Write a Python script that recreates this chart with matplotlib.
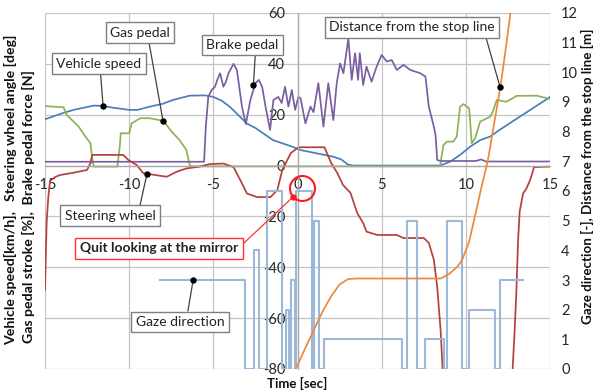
import numpy as np
import matplotlib
matplotlib.use("Agg")
import matplotlib.pyplot as plt

plt.rcParams['font.family'] = ['Lato', 'DejaVu Sans']
plt.rcParams['axes.unicode_minus'] = False

# ---------------- data (time in sec) ----------------
speed_t = [-15, -14, -13.3, -12.1, -11.5, -11, -10, -9.5, -8.76, -8, -7.4, -6.4, -5.5, -5, -4.5, -4,
           -3, -2.5, -2, -1.45, -1, -0.26, 0.18, 1.15, 2.13, 2.6, 3.0, 3.3, 8.47, 9.06, 9.66,
           10.25, 10.85, 11.44, 12.0, 13.2, 14.9, 15]
speed_v = [18.2, 20.5, 21.9, 23.6, 23.4, 22.8, 21.9, 21.9, 23.2, 24.3, 25.8, 27.5, 27.6, 27, 25.5, 23,
           16.5, 14.8, 12.5, 10, 9, 7.3, 6.1, 4.8, 3.5, 2.4, 0.4, 0, 0, 1.5, 4.2,
           7.4, 10, 11.4, 14, 19.2, 26.5, 27]

gas_t = [-15, -13.9, -13.7, -13.0, -12.6, -12.3, -12.2, -12.1, -10.7, -10.55, -10.5, -10.0, -9.85,
         -9.35, -8.76, -7.97, -7.47, -7.0, -6.6, -6.4, -6.3, 8.47, 8.67, 8.87, 9.26, 9.46, 9.66,
         9.86, 10.2, 10.35, 10.55, 10.85, 11.44, 11.6, 11.84, 12.4, 12.8, 13.0, 14.2, 15]
gas_v = [23.4, 22.9, 19.9, 15.3, 11.4, 8.8, 3, -0.4, -0.4, 8, 12.7, 12.7, 16.6,
         18.6, 18.6, 17.6, 13.3, 10, 6.1, 0.2, -0.3, -0.3, 8.1, 9.4, 9.4, 11.4, 23.2,
         24.2, 22.5, 8.8, 10.7, 17.3, 19.2, 21.2, 25.8, 25.1, 26.5, 27.4, 27.5, 26.2]

brake_t = [-15, -5.55, -5.45, -5.3, -5.1, -4.9, -4.75, -4.6, -4.4, -4.25, -4.1, -3.8, -3.6, -3.3,
           -3.07, -2.8, -2.5, -2.3, -2.1, -1.9, -1.63, -1.43, -1.14, -0.94, -0.74, -0.54, -0.34,
           -0.14, 0.05, 0.18, 0.47, 0.77, 0.95, 1.24, 1.54, 1.83, 2.13, 2.33, 2.53, 2.73, 3.02,
           3.22, 3.42, 3.6, 3.7, 3.9, 4.1, 4.4, 4.7, 5.0, 5.3, 5.6, 5.9, 6.3, 6.7, 7.3, 7.6, 7.8,
           8.1, 8.2, 8.3, 8.5, 10.6, 10.9, 11.2, 15]
brake_v = [1.5, 1.5, 15, 27, 29.7, 31, 34, 36.3, 31, 33, 36.3, 40, 37.6, 23.2,
           16.3, 25.8, 32.4, 33.7, 31, 23.2, 14, 25.8, 27, 24.6, 31, 23.2, 29.7,
           21.9, 27, 26.5, 16.6, 23.2, 21, 32.4, 15.3, 32.4, 17.9, 32.4, 40.2, 36.3, 50,
           33.7, 44.2, 33.7, 44.2, 31.7, 38.9, 33, 38.9, 43.5, 40.9, 41.5, 37.6, 39.6, 37.6, 36.3, 35,
           23.2, 15.3, 12, 2.2, 1.8, 1.8, 2.4, 1.6, 1.6]

steer_t = [-15, -14.95, -14.9, -14.8, -14.7, -14.4, -14.1, -13.3, -12.5, -12.3, -12.2, -10.35,
           -10.05, -9.55, -9.16, -7.77, -7.17, -6.58, -5.8, -5.2, -4.4, -3.8, -3.4, -3.0, -2.4,
           -1.6, -1.2, -0.9, -0.4, 0, 0.2, 1.6, 2.0, 2.37, 2.7, 3.15, 3.55, 3.9, 4.1, 4.75, 5.9,
           6.3, 7.5, 7.8, 8.1, 8.3, 8.5, 8.62, 8.7,
           12.7, 12.78, 12.9, 13.0, 13.1, 13.2, 13.4, 13.6, 13.8, 13.95, 14.05, 15]
steer_v = [-49, -35, -22, -12, -6, -4.5, -3.7, -2.8, -1.7, 0.9, 4.2, 4.2,
           2.2, 0.2, -3.0, -4.4, -2.4, -1.1, -0.4, 0.6, 0.8, -0.6, -5.7, -11, -12.4,
           -12.4, -9.6, -1.7, 4.9, 6.9, 7.2, 7.2, 1, -3, -7.6, -10.8, -18.7, -22.6, -26, -27.3, -27.3,
           -28.5, -28.5, -30.4, -37, -47.7, -64.6, -80, -90,
           -90, -80, -65, -50, -30, -18, -11, -9, -6, -3, -0.6, -0.4]

dist_t = [-0.1, 0.5, 1.0, 1.5, 2.0, 2.5, 3.0, 3.5, 8.5, 9.0, 9.5, 9.8, 10.2, 10.6, 11.0, 11.3,
          11.6, 11.9, 12.1, 12.3, 12.65, 12.8]
dist_v = [0.0, 0.75, 1.35, 1.95, 2.45, 2.85, 3.03, 3.05, 3.05, 3.2, 3.45, 3.7, 4.3, 5.3, 6.3, 7.0,
          8.0, 9.0, 9.7, 10.5, 12.0, 12.6]

gaze_t = [-8.15, -3.1, -2.6, -2.3, -1.84, -0.9, -0.7, -0.5, -0.4, -0.12, -0.06, 0.87, 1.0, 1.25,
          1.55, 6.2, 6.5, 7.1, 7.6, 8.7, 8.9, 9.8, 10.2, 11.75, 12.0, 13.37]
gaze_v = [3, 0, 4, 0, 6, 0, 2, 0, 3, 0, 6, 0, 5, 0,
          1, 0, 5, 0, 1, 0, 5, 0, 2, 0, 3, 3]

x_ticks = [-15, -10, -5, 0, 5, 10, 15]
left_ticks = [-80, -60, -40, -20, 0, 20, 40, 60]
right_ticks = list(range(0, 13))

# ---------------- figure ----------------
W, H = 598, 391
fig = plt.figure(figsize=(W / 100, H / 100), dpi=100)
ax = fig.add_axes([45 / W, 1 - 369 / H, 505 / W, 356 / H])
ax2 = ax.twinx()

grid_c = '#c4c4c4'
ax.set_xlim(-15, 15)
ax.set_ylim(-80, 60)
ax2.set_ylim(0, 12)
ax.set_xticks(x_ticks)
ax.set_yticks(left_ticks)
ax2.set_yticks(right_ticks)
ax.set_xticklabels([str(v) for v in x_ticks])
ax.set_yticklabels([str(v) for v in left_ticks])
ax2.set_yticklabels([str(v) for v in right_ticks])

ax.grid(True, color=grid_c, lw=0.9)
ax.set_axisbelow(True)
ax.yaxis.get_gridlines()[-1].set_visible(False)

for s in ['top', 'right']:
    ax.spines[s].set_visible(False)
for s in ax2.spines.values():
    s.set_visible(False)
ax.spines['left'].set_position(('data', 0))
ax.spines['bottom'].set_position(('data', 0))
ax.spines['left'].set_color('#a8a8a8')
ax.spines['bottom'].set_color('#a8a8a8')
ax.spines['left'].set_linewidth(0.9)
ax.spines['bottom'].set_linewidth(0.9)

tick_c = '#262626'
ax.tick_params(axis='both', length=0, labelsize=10.5, colors=tick_c)
ax.tick_params(axis='y', pad=9)
ax.tick_params(axis='x', pad=9)
ax2.tick_params(axis='y', length=0, labelsize=10.5, colors=tick_c, pad=8)

lw = 1.25
ax.plot(speed_t, speed_v, color='#4a7ebb', lw=lw)
ax.plot(gas_t, gas_v, color='#8db255', lw=lw)
ax.plot(brake_t, brake_v, color='#7b5ea1', lw=lw)
ax.plot(steer_t, steer_v, color='#b5403d', lw=lw)
ax2.step(gaze_t, gaze_v, where='post', color='#9db7db', lw=1.5)
ax2.plot(dist_t, dist_v, color='#ec8a3c', lw=lw)

# ---------------- labels ----------------
lab_kw = dict(fontweight='bold', color='#111111', rotation=90, ha='center', va='center')
fig.text(11 / W, 1 - 190 / H, 'Vehicle speed[km/h],   Steering wheel angle [deg]',
         fontsize=10.2, **lab_kw)
fig.text(28 / W, 1 - 207 / H, 'Gas pedal stroke [%],  Brake pedal force [N]',
         fontsize=10.2, **lab_kw)
fig.text(587 / W, 1 - 176 / H, 'Gaze direction [-], Distance from the stop line [m]',
         fontsize=9.6, **lab_kw)
fig.text(297 / W, 1 - 383 / H, 'Time [sec]', fontsize=9.5, fontweight='bold', color='#111111',
         ha='center', va='center')

# ---------------- annotations ----------------
box = dict(boxstyle='square,pad=0.32', fc='white', ec='#7f7f7f', lw=1.0)


def callout(text, tx, ty, x, y, relpos, color='#404040', bbox=box, bold=False):
    ax2.annotate(text, xy=(x, y), xycoords=ax.transData, xytext=(tx, ty),
                 textcoords=ax.transData, ha='center', va='center', fontsize=10,
                 fontweight='bold' if bold else 'normal', color='#222222', bbox=bbox,
                 arrowprops=dict(arrowstyle='-', color=color, lw=0.9, relpos=relpos,
                                 shrinkA=0, shrinkB=0), zorder=10)


def anchor(xv, ts, vs):
    return xv, float(np.interp(xv, ts, vs))


def dot(x, y, color='black'):
    ax2.plot([x], [y], 'o', color=color, ms=3.6, transform=ax.transData, zorder=11)


sx, sy = anchor(-11.55, speed_t, speed_v)
callout('Vehicle speed', -11.82, 40.0, sx, sy, (0.52, 0))
dot(sx, sy)

gx, gy = anchor(-7.99, gas_t, gas_v)
callout('Gas pedal', -9.36, 52.3, gx, gy, (0.64, 0))
dot(gx, gy)

bx, by = -2.62, 31.5
callout('Brake pedal', -3.27, 47.4, bx, by, (0.68, 0))
dot(bx, by)

dx, dv = anchor(12.04, dist_t, dist_v)
dy = dv / 12 * 140 - 80
callout('Distance from the stop line', 6.8, 54.3, dx, dy, (0.94, 0))
dot(dx, dy)

wx, wy = anchor(-8.94, steer_t, steer_v)
callout('Steering wheel', -11.14, -19.8, wx, wy, (0.82, 1))
dot(wx, wy)

zx = -6.2
zy = 3 / 12 * 140 - 80
callout('Gaze direction', -6.98, -61.5, zx, zy, (0.58, 1))
dot(zx, zy)

# quit looking at the mirror
ax2.plot([0.25], [-8.9], 'o', mfc='none', mec='#ff1a1a', mew=1.5, ms=18,
         transform=ax.transData, zorder=11)
red_box = dict(boxstyle='square,pad=0.32', fc='white', ec='#ff3333', lw=1.0)
callout('Quit looking at the mirror', -8.23, -32.6, -0.25, -12.25, (1, 0.5),
        color='#ff3333', bbox=red_box, bold=True)
dot(-0.25, -12.25, color='#ff1a1a')

fig.savefig('out.png', dpi=100)
